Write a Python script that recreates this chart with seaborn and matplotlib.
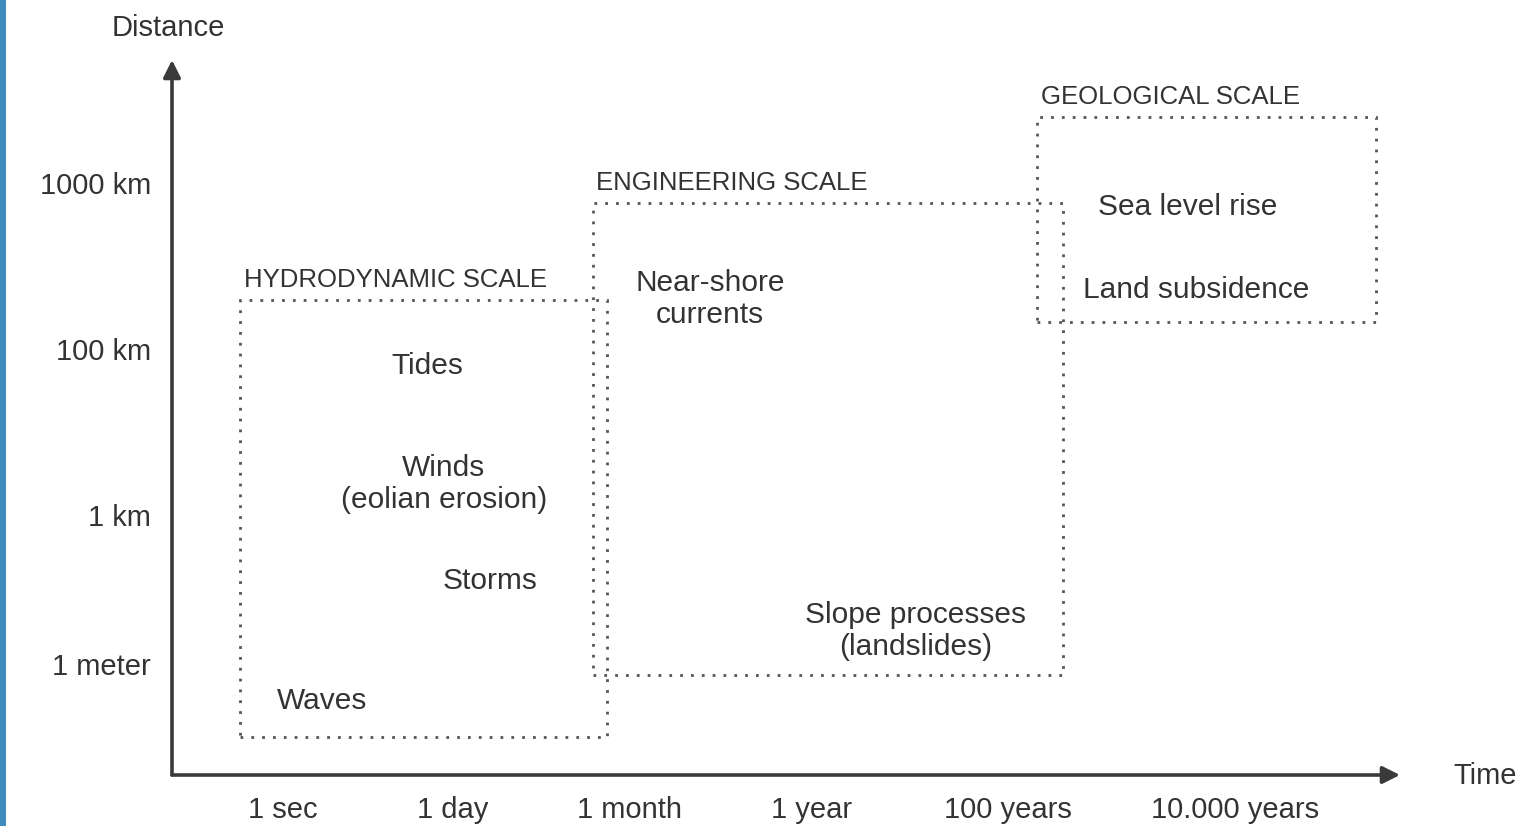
import matplotlib
matplotlib.use("Agg")
import matplotlib.pyplot as plt
from matplotlib.patches import Rectangle
import seaborn as sns

# Axis categories (qualitative scales, positions in axis units)
time_labels = ["1 sec", "1 day", "1 month", "1 year", "100 years", "10.000 years"]
time_pos = [0, 0.97, 1.98, 3.02, 4.14, 5.44]
dist_labels = ["1 meter", "1 km", "100 km", "1000 km"]
dist_pos = [0.1, 1, 2, 3]

# Scale boxes: name, time span (start, end), distance span (low, high)
scale_names = ["HYDRODYNAMIC SCALE", "ENGINEERING SCALE", "GEOLOGICAL SCALE"]
scale_t0 = [-0.245, 1.77, 4.31]
scale_t1 = [1.85, 4.46, 6.246]
scale_d0 = [-0.337, 0.036, 2.163]
scale_d1 = [2.295, 2.88, 3.398]

# Processes and where they sit in time / distance
proc_names = ["Tides", "Winds\n(eolian erosion)", "Storms", "Waves",
              "Near-shore\ncurrents", "Slope processes\n(landslides)",
              "Sea level rise", "Land subsidence"]
proc_t = [0.823, 0.92, 1.183, 0.223, 2.44, 3.617, 5.17, 5.22]
proc_d = [1.898, 1.187, 0.603, -0.12, 2.301, 0.301, 2.856, 2.356]

sns.set_theme(style="white")
plt.rcParams["font.family"] = ["Liberation Sans", "DejaVu Sans"]

ink = "#333333"
fig = plt.figure(figsize=(15.21, 8.26), dpi=100)
fig.patch.set_facecolor("white")
# blue slide edge on the left
fig.add_artist(Rectangle((0, 0), 6 / 1521, 1, transform=fig.transFigure,
                         facecolor="#3f8cbd", edgecolor="none"))

ax = fig.add_axes([172 / 1521, 51 / 826, 1228 / 1521, 715 / 826])
ax.set_xlim(-0.634, 6.383)
ax.set_ylim(-0.566, 3.741)
ax.set_facecolor("none")
sns.despine(ax=ax, left=True, bottom=True)

# axes as arrows
arrow = dict(arrowstyle="-|>", lw=2.6, color="#3a3a3a", mutation_scale=26,
             shrinkA=0, shrinkB=0)
ax.annotate("", xy=(0, 1), xytext=(0, 0), xycoords="axes fraction", arrowprops=arrow)
ax.annotate("", xy=(1, 0), xytext=(0, 0), xycoords="axes fraction", arrowprops=arrow)

ax.set_xticks(time_pos)
ax.set_xticklabels(time_labels, fontsize=21, color=ink)
ax.set_yticks(dist_pos)
ax.set_yticklabels(dist_labels, fontsize=21, color=ink)
ax.tick_params(axis="x", length=0, pad=15)
ax.tick_params(axis="y", length=0, pad=15)
ax.grid(False)

ax.text(-0.657, 3.934, "Distance", fontsize=21, color=ink, ha="center", va="center",
        clip_on=False)
ax.text(6.87, -0.57, "Time", fontsize=21, color=ink, ha="center", va="center",
        clip_on=False)

for name, t0, t1, d0, d1 in zip(scale_names, scale_t0, scale_t1, scale_d0, scale_d1):
    ax.add_patch(Rectangle((t0, d0), t1 - t0, d1 - d0, fill=False, edgecolor="#555555",
                           linewidth=2.0, linestyle=(0, (1, 2.9)), clip_on=False))
    ax.text(t0 + 0.02, d1 + 0.12, name, fontsize=18.5, color=ink, ha="left", va="center")

for name, t, d in zip(proc_names, proc_t, proc_d):
    ax.text(t, d, name, fontsize=21.5, color=ink, ha="center", va="center",
            linespacing=1.2)

fig.savefig("out.png", dpi=100)
